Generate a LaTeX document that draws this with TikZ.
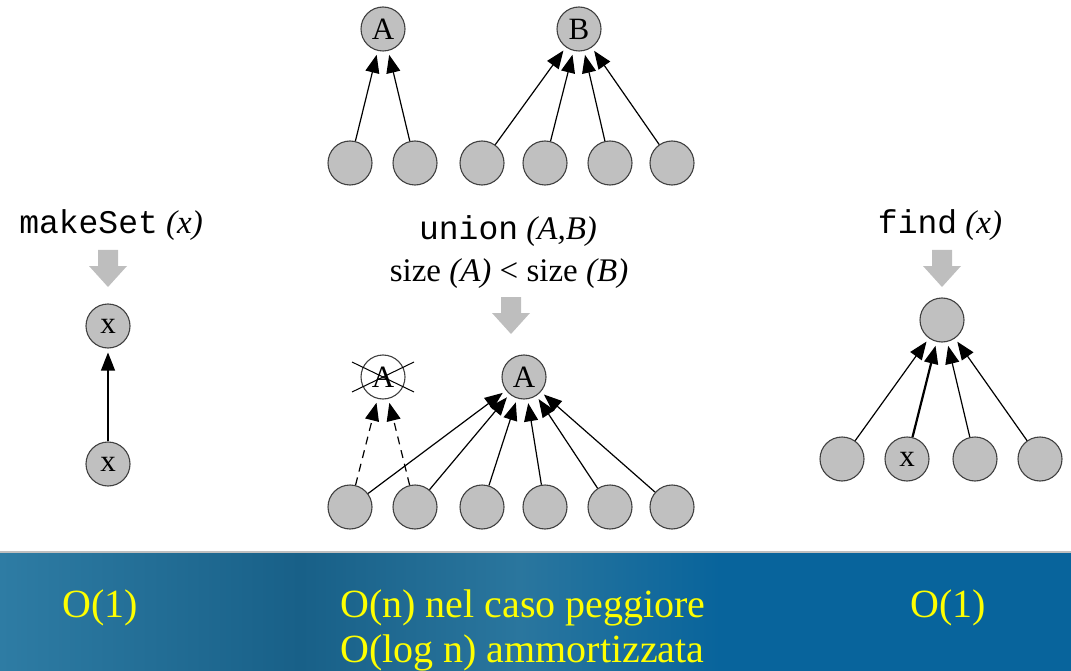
\documentclass[tikz,border=0pt]{standalone}
\usepackage{fontspec}
\setmainfont{Liberation Serif}
\setmonofont{Liberation Mono}
\usetikzlibrary{arrows.meta,positioning,calc}

\definecolor{elemgray}{RGB}{192,192,192}
\definecolor{hintgray}{RGB}{190,190,190}
\definecolor{bandA}{RGB}{46,124,164}
\definecolor{bandB}{RGB}{24,96,136}
\definecolor{bandC}{RGB}{42,118,158}
\definecolor{bandD}{RGB}{8,100,156}
\definecolor{costyellow}{RGB}{255,255,0}

\begin{document}
\begin{tikzpicture}[x=1pt,y=-1pt,
  elem/.style={circle, draw=black!75, fill=elemgray, line width=1.1pt,
    minimum size=44pt, inner sep=0pt, font=\fontsize{31}{31}\selectfont},
  gone/.style={elem, fill=white},
  link/.style={line width=1.2pt, -{Triangle[length=18pt,width=14pt]}, shorten >=4pt},
  title/.style={anchor=base, inner sep=0pt, font=\fontsize{33}{36}\selectfont},
  cost/.style={anchor=base west, inner sep=0pt, text=costyellow,
    font=\fontsize{40}{44}\selectfont}]
\useasboundingbox (0,0) rectangle (1071,671);

% Blue band at the bottom
\shade[left color=bandA, right color=bandB] (0,552) rectangle (300,671);
\shade[left color=bandB, right color=bandC] (300,552) rectangle (520,671);
\shade[left color=bandC, right color=bandD] (520,552) rectangle (720,671);
\fill[bandD] (720,552) rectangle (1071,671);
\draw[black!25, line width=2pt] (0,552) -- (1071,552);

% makeSet
\node[title] (mkT) at (111,234) {\texttt{makeSet} \textit{(x)}};
\node[elem] (mx) at (108,326) {x};
\node[elem] (mxb) at (108,464) {x};
\draw[link] (mxb) -- (mx);

% union, before
\node[elem] (tA) at (383,29) {A};
\node[elem] (tB) at (579,29) {B};
\foreach \i/\x in {1/350,2/415,3/482,4/545,5/610,6/672}
  \node[elem] (t\i) at (\x,163) {};
\foreach \i in {1,2}
  \draw[link] (t\i) -- (tA);
\foreach \i in {3,4,5,6}
  \draw[link] (t\i) -- (tB);

\node[title] (unT) at (508,240) {\texttt{union} \textit{(A,B)}};
\node[title] (szT) at (509,281) {size \textit{(A)} < size \textit{(B)}};

% union, after
\node[gone] (uX) at (383,377) {A};
\draw[line width=1pt] ($(uX)+(-31,-15)$) -- ($(uX)+(31,15)$);
\draw[line width=1pt] ($(uX)+(-31,15)$) -- ($(uX)+(31,-15)$);
\node[elem] (uA) at (524,377) {A};
\foreach \i/\x in {1/350,2/415,3/482,4/545,5/610,6/672}
  \node[elem] (u\i) at (\x,507) {};
\foreach \i in {1,2}
  \draw[link, dash pattern=on 8pt off 6pt] (u\i) -- (uX);
\foreach \i in {1,...,6}
  \draw[link] (u\i) -- (uA);

% find
\node[title] (fdT) at (940,234) {\texttt{find} \textit{(x)}};
\node[elem] (fR) at (942,320) {};
\node[elem] (f1) at (842,459) {};
\node[elem] (f2) at (907,459) {x};
\node[elem] (f3) at (975,459) {};
\node[elem] (f4) at (1040,459) {};
\draw[link] (f1) -- (fR);
\draw[link, line width=2.2pt] (f2) -- (fR);
\draw[link] (f3) -- (fR);
\draw[link] (f4) -- (fR);

% Gray hint arrows
\foreach \ax/\ay in {108/250, 511/297, 942/250}
  \fill[hintgray] (\ax-10,\ay) -- (\ax+10,\ay) -- (\ax+10,\ay+16) -- (\ax+19,\ay+16)
    -- (\ax,\ay+37) -- (\ax-19,\ay+16) -- (\ax-10,\ay+16) -- cycle;

% Costs
\node[cost] (cMk) at (62,617) {O(1)};
\node[cost] (cUn) at (340,617) {O(n) nel caso peggiore};
\node[cost] (cAm) at (340,662) {O(log n) ammortizzata};
\node[cost] (cFd) at (910,617) {O(1)};
\end{tikzpicture}
\end{document}
